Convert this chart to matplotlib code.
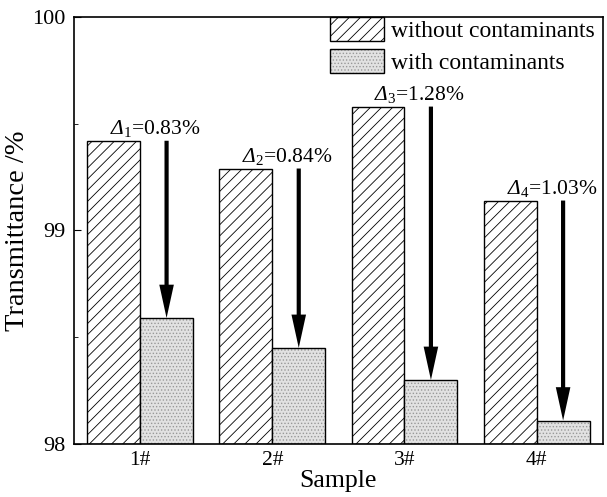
import numpy as np
import matplotlib
matplotlib.use("Agg")
import matplotlib.pyplot as plt
from matplotlib.ticker import MultipleLocator

plt.rcParams['font.family'] = ['Liberation Serif', 'DejaVu Serif']
plt.rcParams['mathtext.fontset'] = 'custom'
plt.rcParams['mathtext.rm'] = 'Liberation Serif'
plt.rcParams['mathtext.it'] = 'Liberation Serif:italic'
# italic Greek capital through the cal slot (mathtext forces it upright in 'it')
plt.rcParams['mathtext.cal'] = 'Liberation Serif:italic'
plt.rcParams['hatch.linewidth'] = 0.6

# data
samples = ["1#", "2#", "3#", "4#"]
without_cont = [99.42, 99.29, 99.58, 99.14]
with_cont = [98.59, 98.45, 98.30, 98.11]
deltas = ["0.83", "0.84", "1.28", "1.03"]

x = np.arange(1, len(samples) + 1)
w = 0.4

fig = plt.figure(figsize=(6.07, 4.97), dpi=100)
ax = fig.add_axes([0.122, 0.1066, 0.871, 0.8594])

ax.bar(x - w / 2, np.array(without_cont) - 98, w, bottom=98, facecolor='white',
       edgecolor='black', hatch='///', lw=1.0, label='without contaminants')
ax.bar(x + w / 2, np.array(with_cont) - 98, w, bottom=98, facecolor='#e2e2e2',
       edgecolor='black', hatch='.....', lw=1.0, label='with contaminants')
for b in ax.patches[len(samples):]:
    b._hatch_color = (0.6, 0.6, 0.6, 1.0)

for i in range(len(samples)):
    ax.annotate('', xy=(x[i] + w / 2, with_cont[i]), xytext=(x[i] + w / 2, without_cont[i]),
                arrowprops=dict(width=3.0, headwidth=10.5, headlength=24, shrink=0,
                                facecolor='black', edgecolor='black', lw=0))
    ax.text(x[i] + 0.115, without_cont[i] + 0.03,
            r'$\mathcal{Δ}_{%d}$=%s%%' % (i + 1, deltas[i]),
            ha='center', va='baseline', fontsize=15.5)

ax.set_xlim(0.5, 4.5)
ax.set_ylim(98, 100)
ax.set_xticks(x)
ax.set_xticklabels(samples)
ax.yaxis.set_major_locator(MultipleLocator(1))
ax.yaxis.set_minor_locator(MultipleLocator(0.5))
ax.tick_params(axis='x', length=0, labelsize=15.5, pad=5)
ax.tick_params(axis='y', which='major', direction='in', length=5, labelsize=16, pad=6)
ax.tick_params(axis='y', which='minor', direction='in', length=3)
for s in ax.spines.values():
    s.set_linewidth(1.2)

ax.set_xlabel('Sample', fontsize=18.5, labelpad=0)
ax.set_ylabel('Transmittance /%', fontsize=20.5, labelpad=2)

ax.legend(loc='upper right', bbox_to_anchor=(1 - 8 / 529, 1.0), frameon=False,
          fontsize=17, handlelength=2.3, handleheight=1.2, borderaxespad=0.0,
          borderpad=0.0, labelspacing=0.3, handletextpad=0.3)

fig.savefig('out.png', dpi=100)
